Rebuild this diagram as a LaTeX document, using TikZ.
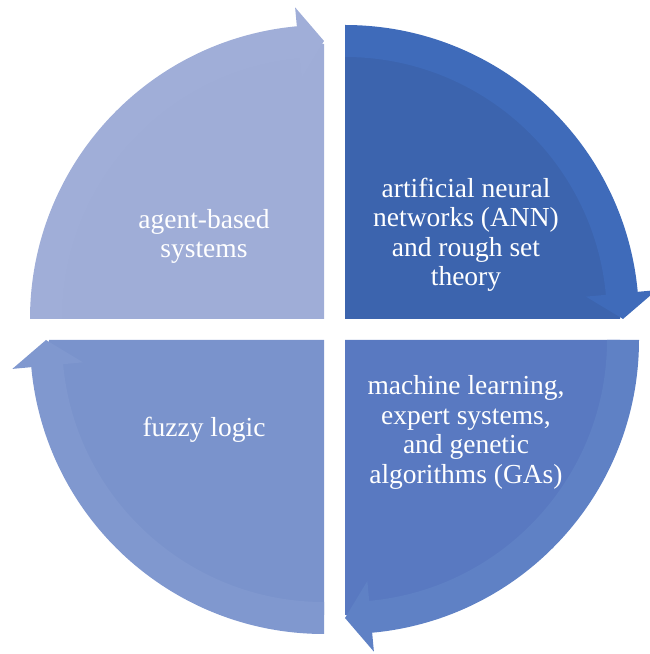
\documentclass[tikz,border=0pt]{standalone}
\usepackage{fontspec}
\setmainfont{Liberation Serif}
\definecolor{tlfill}{HTML}{9FADD7}
\definecolor{tlband}{HTML}{A0AED8}
\definecolor{trfill}{HTML}{3C64AE}
\definecolor{trband}{HTML}{3F6BBA}
\definecolor{brfill}{HTML}{5979C1}
\definecolor{brband}{HTML}{5F81C5}
\definecolor{blfill}{HTML}{7A93CC}
\definecolor{blband}{HTML}{8098CF}
\tikzset{
  label/.style={text=white, align=center, inner sep=0pt,
    font=\fontsize{27.5}{29.5}\selectfont},
}
% pie segment with a clockwise arrow band on its rim
% #1 start angle of the band, #2 tip angle, #3 base angle of the head
\newcommand\rimarrow[3]{%
  (#1:294) arc[start angle=#1, end angle=#3, radius=294]
  -- (#3:313) -- (#2:278) -- (#3:242) -- (#3:262)
  arc[start angle=#3, end angle=#1, radius=262] -- cycle}
\begin{document}
\begin{tikzpicture}[x=1pt,y=1pt]
\useasboundingbox (0,0) rectangle (650,654);
% top left
\begin{scope}[shift={(324,335)}]
  \fill[tlfill] (0,0) -- (90:275) arc[start angle=90, end angle=180, radius=275] -- cycle;
  \fill[tlband] \rimarrow{180}{90}{95.3};
\end{scope}
% top right
\begin{scope}[shift={(345,335)}]
  \fill[trfill] (0,0) -- (90:275) arc[start angle=90, end angle=0, radius=275] -- cycle;
  \fill[trband] \rimarrow{90}{0}{5.3};
\end{scope}
% bottom right
\begin{scope}[shift={(345,314)}]
  \fill[brfill] (0,0) -- (0:275) arc[start angle=0, end angle=-90, radius=275] -- cycle;
  \fill[brband] \rimarrow{360}{270}{275.3};
\end{scope}
% bottom left
\begin{scope}[shift={(324,314)}]
  \fill[blfill] (0,0) -- (270:275) arc[start angle=270, end angle=180, radius=275] -- cycle;
  \fill[blband] \rimarrow{270}{180}{185.3};
\end{scope}
\node[label] (agent) at (204,417.5) {agent-based\\systems};
\node[label] (ann) at (466,419) {artificial neural\\networks (ANN)\\and rough set\\theory};
\node[label] (ml) at (466,221.5) {machine learning,\\expert systems,\\and genetic\\algorithms (GAs)};
\node[label] (fuzzy) at (204,224) {fuzzy logic};
\end{tikzpicture}
\end{document}
